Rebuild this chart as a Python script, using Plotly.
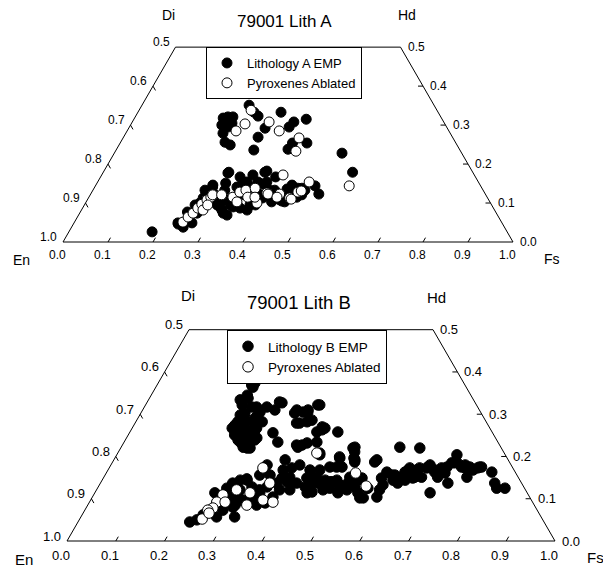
import math
import plotly.graph_objects as go

S3 = math.sqrt(3) / 2
W, H = 611, 569          # window size
OFF = 8                  # page body margin of the browser
WF, HF = W - OFF, H - OFF  # figure size so that the figure fits the window
FONT = "Arial, 'Liberation Sans', sans-serif"

# ---------------- data (Fs fraction, Wo fraction) ----------------
# 79001 Lith A - EMP analyses
a_emp_fs = [0.238, 0.258, 0.272, 0.197, 0.206, 0.217, 0.203, 0.208, 0.219, 0.216, 0.232, 0.247, 0.223,
            0.318, 0.303, 0.299, 0.306, 0.359, 0.383, 0.355, 0.383, 0.381, 0.415, 0.506, 0.554,
            0.185, 0.233, 0.248, 0.262, 0.261, 0.254, 0.262, 0.269, 0.262, 0.290, 0.304, 0.319, 0.286,
            0.278, 0.317, 0.333, 0.316, 0.330, 0.323, 0.368, 0.345, 0.336, 0.377, 0.362, 0.359, 0.376,
            0.393, 0.389, 0.428, 0.441, 0.430, 0.462, 0.462, 0.362, 0.356, 0.376, 0.368, 0.387, 0.412,
            0.434, 0.433, 0.453, 0.471, 0.488, 0.507, 0.470, 0.455, 0.279, 0.310, 0.260, 0.255, 0.246,
            0.238, 0.231, 0.312, 0.324, 0.295, 0.330, 0.332, 0.329, 0.367, 0.350,
            0.249, 0.277, 0.293, 0.328, 0.343, 0.380, 0.388, 0.404, 0.433, 0.436, 0.368, 0.306]
a_emp_wo = [0.351, 0.333, 0.323, 0.318, 0.321, 0.321, 0.300, 0.305, 0.295, 0.279, 0.256, 0.249, 0.305,
            0.333, 0.292, 0.269, 0.236, 0.308, 0.315, 0.295, 0.254, 0.238, 0.254, 0.228, 0.179,
            0.026, 0.046, 0.038, 0.049, 0.074, 0.100, 0.108, 0.115, 0.141, 0.108, 0.090, 0.074, 0.151,
            0.177, 0.108, 0.090, 0.141, 0.126, 0.154, 0.082, 0.141, 0.172, 0.108, 0.151, 0.179, 0.154,
            0.133, 0.167, 0.108, 0.103, 0.136, 0.115, 0.138, 0.182, 0.154, 0.146, 0.126, 0.113, 0.103,
            0.105, 0.133, 0.138, 0.133, 0.144, 0.123, 0.121, 0.121, 0.179, 0.167, 0.146, 0.113, 0.095,
            0.077, 0.049, 0.082, 0.095, 0.095, 0.069, 0.154, 0.121, 0.128, 0.087,
            0.133, 0.121, 0.133, 0.108, 0.121, 0.095, 0.121, 0.133, 0.121, 0.146, 0.095, 0.108]

# 79001 Lith A - pyroxenes ablated
a_abl_fs = [0.249, 0.253, 0.242, 0.304, 0.338, 0.391, 0.401, 0.564,
            0.241, 0.246, 0.252, 0.256, 0.260, 0.266, 0.271, 0.272, 0.270, 0.274, 0.292, 0.320,
            0.335, 0.329, 0.340, 0.353, 0.358, 0.381, 0.390, 0.420, 0.447, 0.458, 0.403, 0.394,
            0.418, 0.452, 0.464, 0.470, 0.369]
a_abl_wo = [0.338, 0.303, 0.285, 0.308, 0.285, 0.267, 0.233, 0.144,
            0.051, 0.064, 0.074, 0.087, 0.097, 0.108, 0.115, 0.121, 0.082, 0.095, 0.121, 0.115,
            0.103, 0.128, 0.133, 0.115, 0.138, 0.100, 0.126, 0.123, 0.113, 0.128, 0.172, 0.123,
            0.115, 0.110, 0.131, 0.154, 0.115]

# 79001 Lith B - EMP analyses
b_emp_fs = [0.194, 0.198, 0.202, 0.198, 0.206, 0.213, 0.220, 0.230, 0.209, 0.221, 0.219, 0.233, 0.246,
            0.255, 0.242, 0.218, 0.238, 0.254, 0.265, 0.267, 0.219, 0.240, 0.199, 0.251, 0.271, 0.277,
            0.294, 0.315, 0.315, 0.331, 0.341, 0.331, 0.351, 0.357, 0.383, 0.395, 0.395, 0.426, 0.368,
            0.376, 0.459, 0.416, 0.271, 0.316, 0.359, 0.391, 0.353, 0.339, 0.388, 0.479, 0.484, 0.490,
            0.476, 0.465, 0.476, 0.571, 0.613, 0.539, 0.537, 0.494, 0.337, 0.357,
            0.207, 0.231, 0.250, 0.256, 0.254, 0.243, 0.197, 0.188, 0.205, 0.232, 0.240, 0.259,
            0.574, 0.588, 0.610, 0.611, 0.616, 0.633, 0.636, 0.651, 0.654, 0.670, 0.681, 0.691, 0.696,
            0.697, 0.705, 0.721, 0.729, 0.738, 0.748, 0.755, 0.762, 0.744, 0.789, 0.808, 0.818, 0.835,
            0.687, 0.621, 0.609, 0.596, 0.581, 0.580, 0.583, 0.556, 0.539, 0.554, 0.507, 0.507, 0.486,
            0.473, 0.457, 0.445, 0.430, 0.424, 0.444, 0.466, 0.498, 0.526, 0.570, 0.634, 0.651, 0.684,
            0.694, 0.712, 0.615, 0.512, 0.530, 0.594, 0.637, 0.652, 0.672, 0.702, 0.726, 0.758,
            0.362, 0.259, 0.265, 0.414, 0.496, 0.451, 0.461, 0.320, 0.317, 0.297, 0.359, 0.374, 0.366,
            0.381, 0.402, 0.417, 0.435, 0.449, 0.469, 0.481, 0.492, 0.513, 0.464, 0.435, 0.396, 0.375,
            0.334, 0.324, 0.312, 0.294, 0.370, 0.361, 0.346, 0.524, 0.549, 0.552, 0.361, 0.381, 0.436,
            0.476, 0.504, 0.338, 0.351, 0.387, 0.414, 0.434, 0.302, 0.276,
            0.229, 0.241, 0.248, 0.256, 0.262, 0.266, 0.265, 0.271, 0.283, 0.295, 0.278, 0.283, 0.300,
            0.306, 0.282, 0.246, 0.291, 0.315, 0.315, 0.329, 0.338, 0.346]
b_emp_wo = [0.369, 0.374, 0.338, 0.322, 0.298, 0.303, 0.317, 0.317, 0.282, 0.279, 0.258, 0.251, 0.258,
            0.267, 0.298, 0.251, 0.234, 0.234, 0.220, 0.244, 0.291, 0.282, 0.364, 0.317, 0.310, 0.327,
            0.256, 0.234, 0.303, 0.305, 0.305, 0.279, 0.282, 0.322, 0.258, 0.267, 0.234, 0.258, 0.227,
            0.232, 0.199, 0.204, 0.329, 0.310, 0.286, 0.263, 0.322, 0.310, 0.270, 0.222, 0.211, 0.196,
            0.175, 0.175, 0.220, 0.222, 0.220, 0.192, 0.187, 0.192, 0.279, 0.227,
            0.274, 0.239, 0.222, 0.239, 0.263, 0.305, 0.345, 0.334, 0.267, 0.267, 0.291, 0.282,
            0.163, 0.156, 0.151, 0.163, 0.173, 0.168, 0.173, 0.173, 0.180, 0.168, 0.173, 0.175, 0.185,
            0.204, 0.187, 0.175, 0.173, 0.175, 0.168, 0.173, 0.175, 0.151, 0.163, 0.137, 0.125, 0.125,
            0.114, 0.144, 0.137, 0.144, 0.133, 0.121, 0.104, 0.102, 0.114, 0.125, 0.137, 0.125, 0.137,
            0.140, 0.144, 0.137, 0.144, 0.128, 0.116, 0.125, 0.114, 0.128, 0.149, 0.149, 0.151, 0.151,
            0.161, 0.137, 0.168, 0.144, 0.149, 0.156, 0.151, 0.175, 0.163, 0.185, 0.180, 0.175,
            0.222, 0.220, 0.239, 0.208, 0.187, 0.175, 0.196, 0.180, 0.156, 0.144, 0.168, 0.173, 0.149,
            0.151, 0.137, 0.149, 0.125, 0.137, 0.140, 0.144, 0.133, 0.121, 0.121, 0.114, 0.121, 0.121,
            0.121, 0.114, 0.097, 0.121, 0.104, 0.090, 0.085, 0.144, 0.102, 0.125, 0.137, 0.140, 0.151,
            0.125, 0.151, 0.156, 0.192, 0.180, 0.168, 0.168, 0.085, 0.109,
            0.045, 0.050, 0.062, 0.073, 0.090, 0.104, 0.125, 0.137, 0.144, 0.147, 0.057, 0.073, 0.080,
            0.097, 0.104, 0.114, 0.114, 0.128, 0.057, 0.104, 0.114, 0.128]

# 79001 Lith B - pyroxenes ablated
b_abl_fs = [0.408, 0.315, 0.511, 0.548, 0.347, 0.318, 0.326, 0.287, 0.265, 0.261, 0.260, 0.252,
            0.251, 0.353, 0.376, 0.258, 0.278]
b_abl_wo = [0.208, 0.173, 0.161, 0.130, 0.137, 0.114, 0.085, 0.121, 0.109, 0.092, 0.078, 0.073,
            0.052, 0.097, 0.092, 0.066, 0.092]

# axis ticks
fs_ticks = [0.0, 0.1, 0.2, 0.3, 0.4, 0.5, 0.6, 0.7, 0.8, 0.9, 1.0]
fs_tick_labels = ["0.0", "0.1", "0.2", "0.3", "0.4", "0.5", "0.6", "0.7", "0.8", "0.9", "1.0"]
wo_ticks = [0.0, 0.1, 0.2, 0.3, 0.4, 0.5]
left_tick_labels = ["1.0", "0.9", "0.8", "0.7", "0.6", "0.5"]
right_tick_labels = ["0.0", "0.1", "0.2", "0.3", "0.4", "0.5"]


def to_xy(fs, wo):
    return [f + w / 2 for f, w in zip(fs, wo)], [w * S3 for w in wo]


# pixel layout in window coordinates (converted to figure coords with OFF below)
panels = [
    dict(xa="x", ya="y", L=450, x0=63, y0=242, top=OFF, bot=284, legend="legend",
         emp=(a_emp_fs, a_emp_wo), abl=(a_abl_fs, a_abl_wo), emp_name="Lithology A EMP",
         title="79001 Lith A", title_xy=(284, 22), title_size=17,
         vlabels=[("Di", 168, 15), ("Hd", 407, 15), ("En", 22, 260), ("Fs", 552, 259)],
         vsize=14, tsize=12, msize=10, lbl_dy=13),
    dict(xa="x2", ya="y2", L=488, x0=67, y0=541, top=284, bot=H, legend="legend2",
         emp=(b_emp_fs, b_emp_wo), abl=(b_abl_fs, b_abl_wo), emp_name="Lithology B EMP",
         title="79001 Lith B", title_xy=(299, 302), title_size=18.5,
         vlabels=[("Di", 188, 295), ("Hd", 436, 297), ("En", 24, 559), ("Fs", 595, 557)],
         vsize=15, tsize=13, msize=10.5, lbl_dy=14.5),
]

fig = go.Figure()
annotations = []
layout_axes = {}


def paper_x(px):
    return (px - OFF) / WF


def paper_y(py):
    return 1 - (py - OFF) / HF


for i, p in enumerate(panels):
    xa, ya, L = p["xa"], p["ya"], p["L"]
    ff = [0.0, 1.0, 0.5, 0.0, 0.0]
    fw = [0.0, 0.0, 0.5, 0.5, 0.0]
    fx, fy = to_xy(ff, fw)
    fig.add_trace(go.Scatter(x=fx, y=fy, mode="lines", line=dict(color="black", width=1),
                             showlegend=False, hoverinfo="skip", xaxis=xa, yaxis=ya))
    tl = 5.0 / L
    tx, ty = [], []
    for f in fs_ticks[1:-1]:
        tx += [f, f + tl * 0.5, None]
        ty += [0, tl * S3, None]
    for w in wo_ticks[1:-1]:
        lx, ly = w / 2, w * S3
        tx += [lx, lx + tl * 0.5, None]
        ty += [ly, ly - tl * S3, None]
        rx, ry = 1 - w / 2, w * S3
        tx += [rx, rx - tl, None]
        ty += [ry, ry, None]
    fig.add_trace(go.Scatter(x=tx, y=ty, mode="lines", line=dict(color="black", width=1),
                             showlegend=False, hoverinfo="skip", xaxis=xa, yaxis=ya))
    ex, ey = to_xy(*p["emp"])
    fig.add_trace(go.Scatter(x=ex, y=ey, mode="markers", name=p["emp_name"],
                             marker=dict(size=p["msize"], color="black",
                                         line=dict(color="black", width=1)),
                             xaxis=xa, yaxis=ya, legend=p["legend"]))
    bx, by = to_xy(*p["abl"])
    fig.add_trace(go.Scatter(x=bx, y=by, mode="markers", name="Pyroxenes Ablated",
                             marker=dict(size=p["msize"], color="white",
                                         line=dict(color="black", width=1)),
                             xaxis=xa, yaxis=ya, legend=p["legend"]))

    tfont = dict(family=FONT, size=p["tsize"], color="black")
    for f, lab in zip(fs_ticks, fs_tick_labels):
        annotations.append(dict(x=f, y=0, xref=xa, yref=ya, text=lab, showarrow=False,
                                xanchor="center", yanchor="middle", xshift=-6,
                                yshift=-p["lbl_dy"], font=tfont))
    for w, lab in zip(wo_ticks, left_tick_labels):
        annotations.append(dict(x=w / 2, y=w * S3, xref=xa, yref=ya, text=lab,
                                showarrow=False, xanchor="right", yanchor="middle",
                                xshift=-4, yshift=5, font=tfont))
    for w, lab in zip(wo_ticks, right_tick_labels):
        annotations.append(dict(x=1 - w / 2, y=w * S3, xref=xa, yref=ya, text=lab,
                                showarrow=False, xanchor="left", yanchor="middle",
                                xshift=5, yshift=0, font=tfont))
    tx0, ty0 = p["title_xy"]
    annotations.append(dict(x=paper_x(tx0), y=paper_y(ty0), xref="paper", yref="paper",
                            text=p["title"], showarrow=False, xanchor="center",
                            yanchor="middle",
                            font=dict(family=FONT, size=p["title_size"], color="black")))
    for txt, px, py in p["vlabels"]:
        annotations.append(dict(x=paper_x(px), y=paper_y(py), xref="paper", yref="paper",
                                text=txt, showarrow=False, xanchor="center", yanchor="middle",
                                font=dict(family=FONT, size=p["vsize"], color="black")))

    # axes map window pixels exactly (figure is offset by OFF)
    x0f, y0f = p["x0"] - OFF, p["y0"] - OFF
    topf, botf = p["top"] - OFF, p["bot"] - OFF
    xr = [-x0f / L, (WF - x0f) / L]
    yr = [-(botf - y0f) / L, (y0f - topf) / L]
    ydom = [1 - botf / HF, 1 - topf / HF]
    xkey = "xaxis" if i == 0 else "xaxis2"
    ykey = "yaxis" if i == 0 else "yaxis2"
    layout_axes[xkey] = dict(domain=[0, 1], range=xr, visible=False, fixedrange=True,
                             anchor=ya)
    layout_axes[ykey] = dict(domain=ydom, range=yr, visible=False, fixedrange=True,
                             anchor=xa)

legend_common = dict(bordercolor="black", borderwidth=1, bgcolor="white",
                     xanchor="left", yanchor="top", traceorder="normal")

fig.update_layout(
    width=WF, height=HF,
    margin=dict(l=0, r=0, t=0, b=0),
    paper_bgcolor="white", plot_bgcolor="white",
    font=dict(family=FONT, color="black"),
    annotations=annotations,
    legend=dict(x=paper_x(206), y=paper_y(47), font=dict(family=FONT, size=13, color="black"),
                **legend_common),
    legend2=dict(x=paper_x(227), y=paper_y(330),
                 font=dict(family=FONT, size=13.5, color="black"), **legend_common),
    **layout_axes,
)

fig.write_html("out.html")
